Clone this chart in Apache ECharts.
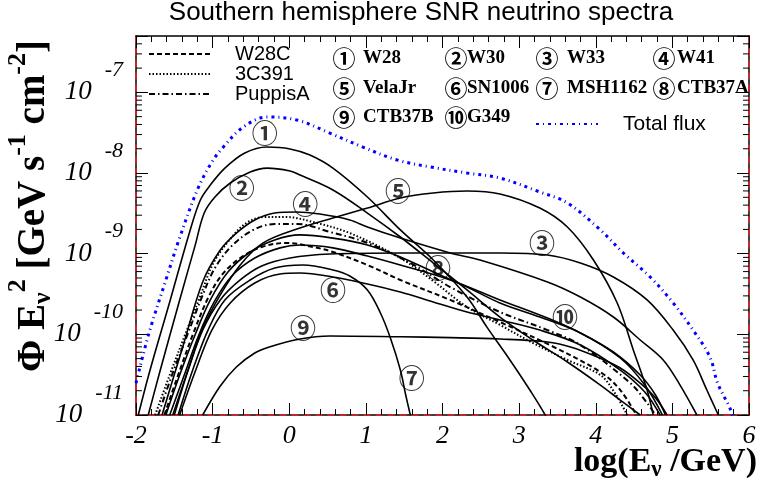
<!DOCTYPE html>
<html>
<head>
<meta charset="utf-8">
<script src="https://cdn.jsdelivr.net/npm/echarts@6/dist/echarts.min.js"></script>
<style>
  html, body { margin: 0; padding: 0; background: #fff; }
  #chart { width: 760px; height: 486px; }
</style>
</head>
<body>
<div id="chart"></div>
<script>
// Neutrino spectra Phi*E^2 (GeV s^-1 cm^-2) versus log10(E / GeV) for southern SNRs.
// Each curve: [log10(E/GeV), flux]
const W28 = [[-1.97,1.00e-11],[-1.82,3.51e-11],[-1.56,2.52e-10],[-1.30,1.86e-9],[-1.16,4.63e-9],[-1.03,7.10e-9],[-0.84,1.15e-8],[-0.58,1.77e-8],[-0.29,2.10e-8],[0.01,1.99e-8],[0.27,1.67e-8],[0.57,1.15e-8],[1.02,5.04e-9],[1.45,1.97e-9],[1.88,8.35e-10],[2.32,2.90e-10],[2.58,1.23e-10],[2.88,4.81e-11],[3.14,2.04e-11],[3.34,1.00e-11],[3.43,6.5e-12]];
const W30 = [[-1.84,1.00e-11],[-1.69,3.41e-11],[-1.43,2.67e-10],[-1.23,1.25e-9],[-1.11,3.19e-9],[-0.97,5.04e-9],[-0.77,7.52e-9],[-0.51,1.03e-8],[-0.29,1.15e-8],[0.01,1.06e-8],[0.14,9.45e-9],[0.57,6.16e-9],[1.02,3.19e-9],[1.45,1.61e-9],[1.88,7.66e-10],[2.32,3.55e-10],[2.75,1.64e-10],[3.18,8.51e-11],[3.63,4.54e-11],[4.06,2.35e-11],[4.32,1.53e-11],[4.58,1.00e-11]];
const W33 = [[-1.52,1.00e-11],[-1.32,3.61e-11],[-1.13,1.13e-10],[-0.90,2.67e-10],[-0.64,4.72e-10],[-0.36,7.03e-10],[0.01,8.83e-10],[0.53,9.91e-10],[1.45,1.02e-9],[2.75,1.02e-9],[3.37,9.63e-10],[3.80,7.66e-10],[4.23,5.14e-10],[4.67,2.67e-10],[5.01,1.13e-10],[5.27,4.81e-11],[5.45,2.04e-11],[5.60,1.00e-11]];
const W41 = [[-1.66,1.00e-11],[-1.39,6.97e-11],[-1.13,4.46e-10],[-0.90,1.11e-9],[-0.69,1.80e-9],[-0.45,2.62e-9],[-0.19,3.19e-9],[0.09,3.29e-9],[0.40,3.10e-9],[0.79,2.62e-9],[1.02,2.14e-9],[1.45,1.56e-9],[2.10,1.02e-9],[2.49,8.35e-10],[3.37,4.46e-10],[3.80,2.90e-10],[4.23,1.64e-10],[4.58,8.51e-11],[4.88,4.81e-11],[5.10,2.35e-11],[5.32,1.00e-11]];
const VelaJr = [[-1.50,1.00e-11],[-1.32,3.61e-11],[-1.14,1.13e-10],[-0.90,3.08e-10],[-0.64,7.24e-10],[-0.34,1.36e-9],[0.14,2.08e-9],[0.57,2.77e-9],[1.02,3.68e-9],[1.45,4.90e-9],[1.88,5.65e-9],[2.32,5.98e-9],[2.75,5.50e-9],[3.27,3.68e-9],[3.63,2.14e-9],[3.97,8.35e-10],[4.28,2.45e-10],[4.49,6.40e-11],[4.67,2.04e-11],[4.75,1.00e-11]];
const SN1006 = [[-1.43,1.00e-11],[-1.22,3.61e-11],[-1.01,1.13e-10],[-0.77,2.45e-10],[-0.45,4.33e-10],[-0.12,5.60e-10],[0.14,5.75e-10],[0.57,5.14e-10],[1.02,4.21e-10],[1.45,3.35e-10],[1.88,2.52e-10],[2.32,1.89e-10],[2.75,1.51e-10],[3.27,1.13e-10],[3.80,7.38e-11],[4.32,3.61e-11],[4.64,1.93e-11],[4.84,1.00e-11]];
const MSH1162 = [[-1.45,1.00e-11],[-1.26,3.61e-11],[-1.06,1.13e-10],[-0.84,2.67e-10],[-0.51,4.72e-10],[-0.19,6.64e-10],[0.18,7.24e-10],[0.57,6.28e-10],[0.79,5.29e-10],[1.02,3.55e-10],[1.19,1.84e-10],[1.32,9.01e-11],[1.45,3.61e-11],[1.52,1.77e-11],[1.58,1.00e-11]];
const CTB37A = [[-1.61,1.00e-11],[-1.43,3.13e-11],[-1.23,9.82e-11],[-1.03,2.67e-10],[-0.80,5.93e-10],[-0.51,1.05e-9],[-0.19,1.48e-9],[0.14,1.71e-9],[0.57,1.56e-9],[1.02,1.28e-9],[1.45,9.10e-10],[1.88,5.93e-10],[2.32,3.86e-10],[2.75,2.45e-10],[3.27,1.64e-10],[3.80,1.04e-10],[4.32,5.09e-11],[4.64,2.35e-11],[4.87,1.00e-11]];
const CTB37B = [[-1.13,1.00e-11],[-0.90,2.29e-11],[-0.69,3.94e-11],[-0.45,5.87e-11],[-0.26,6.97e-11],[0.14,8.75e-11],[0.53,9.54e-11],[1.45,9.32e-11],[2.10,9.10e-11],[2.75,8.75e-11],[3.37,8.04e-11],[3.67,6.97e-11],[4.02,5.24e-11],[4.32,3.83e-11],[4.58,2.49e-11],[4.78,1.63e-11],[4.93,1.00e-11]];
const G349 = [[-1.56,1.00e-11],[-1.37,3.13e-11],[-1.18,9.82e-11],[-0.98,2.52e-10],[-0.75,5.29e-10],[-0.45,8.83e-10],[-0.12,1.18e-9],[0.14,1.28e-9],[0.57,1.18e-9],[1.02,9.36e-10],[1.45,7.24e-10],[2.10,4.72e-10],[2.75,2.67e-10],[3.37,1.59e-10],[3.80,1.04e-10],[4.23,6.04e-11],[4.58,3.13e-11],[4.78,1.77e-11],[4.91,1.00e-11]];
const W28C = [[-1.63,1.00e-11],[-1.45,3.13e-11],[-1.26,9.82e-11],[-1.06,2.82e-10],[-0.88,5.44e-10],[-0.64,8.83e-10],[-0.36,1.21e-9],[-0.03,1.36e-9],[0.31,1.21e-9],[0.57,1.05e-9],[1.02,7.24e-10],[1.45,4.72e-10],[2.10,2.67e-10],[2.75,1.42e-10],[3.40,7.38e-11],[4.06,3.41e-11],[4.32,2.04e-11],[4.53,1.00e-11]];
const C391 = [[-1.75,1.00e-11],[-1.56,3.13e-11],[-1.36,9.82e-11],[-1.16,2.99e-10],[-0.99,7.66e-10],[-0.77,1.52e-9],[-0.56,2.40e-9],[-0.32,2.85e-9],[-0.04,2.85e-9],[0.31,2.47e-9],[0.79,1.80e-9],[1.45,8.83e-10],[1.88,4.58e-10],[2.32,2.18e-10],[2.75,1.31e-10],[3.18,7.81e-11],[3.63,4.81e-11],[4.06,3.13e-11],[4.25,1.87e-11],[4.41,1.00e-11]];
const PuppisA = [[-1.71,1.00e-11],[-1.53,3.13e-11],[-1.33,9.82e-11],[-1.14,2.90e-10],[-0.97,6.64e-10],[-0.75,1.25e-9],[-0.47,1.97e-9],[-0.19,2.33e-9],[0.11,2.33e-9],[0.53,1.86e-9],[1.02,1.36e-9],[1.58,7.66e-10],[2.10,3.86e-10],[2.75,1.89e-10],[3.37,1.13e-10],[3.80,7.38e-11],[4.45,2.49e-11],[4.67,1.41e-11],[4.78,1.00e-11]];
const TotalFlux = [[-2.00,2.49e-11],[-1.83,1.04e-10],[-1.61,4.72e-10],[-1.44,1.48e-9],[-1.20,6.16e-9],[-1.01,1.37e-8],[-0.86,2.10e-8],[-0.60,3.72e-8],[-0.29,4.95e-8],[0.10,4.54e-8],[0.53,3.13e-8],[0.96,2.10e-8],[1.41,1.45e-8],[1.84,1.19e-8],[2.32,1.00e-8],[2.75,8.67e-9],[3.27,5.82e-9],[3.63,4.25e-9],[4.06,1.97e-9],[4.36,1.02e-9],[4.71,5.14e-10],[5.01,2.45e-10],[5.27,1.13e-10],[5.49,5.24e-11],[5.59,2.49e-11],[5.75,1.22e-11],[5.82,8.0e-12]];

// Circled markers placed next to each remnant's curve
const markerText = ['①','②','③','④','⑤','⑥','⑦','⑧','⑨','⑩'];
const markerLogE = [-0.32, -0.62, 3.30, 0.21, 1.42, 0.57, 1.60, 1.94, 0.18, 3.60];
const markerFlux = [3.13e-8, 6.52e-9, 1.36e-9, 4.13e-9, 5.98e-9, 3.55e-10, 2.87e-11, 6.64e-10, 1.20e-10, 1.64e-10];

// Remnant key (marker + name), four per row
const keyMarkers = ['①','②','③','④','⑤','⑥','⑦','⑧','⑨','⑩'];
const keyNames = ['W28','W30','W33','W41','VelaJr','SN1006','MSH1162','CTB37A','CTB37B','G349'];

// Axis ticks
const xTicks = [-2, -1, 0, 1, 2, 3, 4, 5, 6];
const yExponents = [-11, -10, -9, -8, -7];
const minorMultipliers = [2, 3, 4, 5, 6, 7, 8, 9];

const xMin = -2, xMax = 6, yMin = 1e-11, yMax = 5e-7;

const SERIF = "'Liberation Serif','Times New Roman',serif";
const SANS = "'Liberation Sans',Arial,sans-serif";
const CIRC = "'Noto Sans CJK SC','DejaVu Sans',sans-serif";

const chart = echarts.init(document.getElementById('chart'), null, { renderer: 'canvas' });

function curve(name, data, lineStyle) {
  return {
    type: 'line', name, data,
    symbol: 'none', showSymbol: false,
    smooth: 0.35, clip: true, silent: true,
    lineStyle: Object.assign({ color: '#000', width: 1.6 }, lineStyle),
    itemStyle: { color: lineStyle && lineStyle.color ? lineStyle.color : '#000' },
    z: 3
  };
}

const solidCurves = [
  ['W28', W28], ['W30', W30], ['W33', W33], ['W41', W41], ['VelaJr', VelaJr],
  ['SN1006', SN1006], ['MSH1162', MSH1162], ['CTB37A', CTB37A], ['CTB37B', CTB37B], ['G349', G349]
];

const series = solidCurves.map(([n, d]) => curve(n, d, {}));
series.push(curve('W28C', W28C, { width: 2, type: [5, 3] }));
series.push(curve('3C391', C391, { width: 2, type: [1.5, 2] }));
series.push(curve('PuppisA', PuppisA, { width: 2, type: [6, 3, 1.5, 3] }));
series.push(curve('Total flux', TotalFlux, { color: '#0000ff', width: 3, type: [3, 4, 1, 4] }));

// circled markers
series.push({
  type: 'scatter', silent: true, z: 10,
  symbol: 'circle', symbolSize: 1, itemStyle: { color: 'rgba(0,0,0,0)' },
  data: markerLogE.map((e, i) => ({ value: [e, markerFlux[i]], label: { formatter: markerText[i] } })),
  label: { show: true, position: 'inside', fontFamily: CIRC, fontWeight: 'bold', fontSize: 26, color: '#000' }
});

// log minor ticks on left and right frame edges
const minorValues = [];
yExponents.forEach(e => minorMultipliers.forEach(m => {
  const v = m * Math.pow(10, e);
  if (v < yMax) minorValues.push(v);
}));
series.push({
  type: 'custom', silent: true, clip: false, z: 5,
  data: minorValues.map(v => [xMin, v]),
  renderItem: (params, api) => {
    const v = api.value(1);
    const l = api.coord([xMin, v]);
    const r = api.coord([xMax, v]);
    return {
      type: 'group', children: [
        { type: 'line', shape: { x1: l[0], y1: l[1], x2: l[0] + 6, y2: l[1] }, style: { stroke: '#000', lineWidth: 1 } },
        { type: 'line', shape: { x1: r[0], y1: r[1], x2: r[0] - 6, y2: r[1] }, style: { stroke: '#000', lineWidth: 1 } }
      ]
    };
  }
});

const frameLine = { onZero: false, lineStyle: { color: '#000', width: 1.5 } };
const redLine = { onZero: false, lineStyle: { color: '#e8202a', width: 1.5, type: [6, 6] } };
const tick = { inside: true, length: 12, lineStyle: { color: '#000', width: 1 } };

const baseX = {
  type: 'value', min: xMin, max: xMax, interval: 1,
  axisLine: frameLine, splitLine: { show: false }, axisTick: tick,
  minorTick: { show: true, splitNumber: 5, length: 6, lineStyle: { color: '#000', width: 1 } }
};
const baseY = {
  type: 'log', logBase: 10, min: yMin, max: yMax,
  axisLine: frameLine, splitLine: { show: false }, axisTick: tick,
  minorTick: { show: false }
};
const overlay = (pos) => ({
  type: 'value', min: 0, max: 1, position: pos,
  axisLine: redLine, axisTick: { show: false }, axisLabel: { show: false }, splitLine: { show: false }
});

// key texts
const graphics = [];
const colDigitX = [344, 456, 547, 664];
const colNameX = [363, 467, 567, 677];
const rowY = [58, 88, 117];
keyNames.forEach((name, i) => {
  const c = i % 4, r = Math.floor(i / 4);
  graphics.push({ type: 'text', x: colDigitX[c], y: rowY[r], silent: true,
    style: { text: keyMarkers[i], font: 'bold 23px ' + CIRC, fill: '#000', align: 'center', verticalAlign: 'middle', textAlign: 'center', textVerticalAlign: 'middle' } });
  graphics.push({ type: 'text', x: colNameX[c], y: rowY[r], silent: true,
    style: { text: name, font: 'bold 19px ' + SERIF, fill: '#000', align: 'left', verticalAlign: 'middle', textAlign: 'left', textVerticalAlign: 'middle' } });
});

// axis titles
graphics.push({
  type: 'text', x: 34, y: 206, rotation: Math.PI / 2, silent: true,
  style: {
    text: '{m|\u03A6 E}{sub|\u03BD}{sup|2}{m| [GeV s}{sup|-1}{m| cm}{sup|-2}{m|]}',
    align: 'center', verticalAlign: 'middle', textAlign: 'center', textVerticalAlign: 'middle',
    rich: {
      m: { fontFamily: SERIF, fontWeight: 'bold', fontSize: 39, lineHeight: 46, color: '#000' },
      sup: { fontFamily: SERIF, fontWeight: 'bold', fontSize: 26, lineHeight: 46, padding: [0, 0, 32, 0], color: '#000' },
      sub: { fontFamily: SERIF, fontWeight: 'bold', fontSize: 26, lineHeight: 46, padding: [18, 0, 0, 0], color: '#000' }
    }
  }
});
graphics.push({
  type: 'text', x: 757, y: 462, silent: true,
  style: {
    text: '{m|log(E}{sub|\u03BD}{m| /GeV)}',
    align: 'right', verticalAlign: 'middle', textAlign: 'right', textVerticalAlign: 'middle',
    rich: {
      m: { fontFamily: SERIF, fontWeight: 'bold', fontSize: 34, lineHeight: 40, color: '#000' },
      sub: { fontFamily: SERIF, fontWeight: 'bold', fontSize: 23, lineHeight: 40, padding: [16, 0, 0, 0], color: '#000' }
    }
  }
});

const hiddenSymbol = { opacity: 0 };

const option = {
  animation: false,
  backgroundColor: '#fff',
  title: {
    text: 'Southern hemisphere SNR neutrino spectra',
    left: 421, top: 0, padding: 0, textAlign: 'center',
    textStyle: { fontFamily: SANS, fontSize: 26, fontWeight: 'normal', color: '#000' }
  },
  legend: [
    {
      data: ['W28C', '3C391', 'PuppisA'].map(n => ({ name: n, itemStyle: hiddenSymbol })),
      orient: 'vertical', left: 148, top: 44, padding: 0,
      itemWidth: 61, itemHeight: 10, itemGap: 0, selectedMode: false,
      itemStyle: hiddenSymbol,
      textStyle: { fontFamily: SANS, fontSize: 20, color: '#000', lineHeight: 19.5, padding: [0, 0, 0, 20] }
    },
    {
      data: [{ name: 'Total flux', itemStyle: hiddenSymbol }],
      left: 535, top: 113, padding: 0,
      itemWidth: 62, itemHeight: 10, selectedMode: false,
      itemStyle: hiddenSymbol,
      textStyle: { fontFamily: SANS, fontSize: 21, color: '#000', lineHeight: 22, padding: [0, 0, 0, 20] }
    }
  ],
  grid: { left: 136, right: 11, top: 36, bottom: 71 },
  xAxis: [
    Object.assign({}, baseX, {
      position: 'bottom',
      axisLabel: {
        show: true, margin: 8, fontFamily: SERIF, fontStyle: 'italic', fontSize: 26, color: '#000',
        formatter: v => xTicks.includes(v) ? String(v) : ''
      }
    }),
    Object.assign({}, baseX, { position: 'top', axisLabel: { show: false } }),
    overlay('bottom')
  ],
  yAxis: [
    Object.assign({}, baseY, {
      position: 'left',
      axisLabel: {
        show: true, margin: 13,
        formatter: v => {
          const lg = Math.log10(v);
          const e = Math.round(lg);
          if (Math.abs(lg - e) > 1e-6 || !yExponents.includes(e)) return '';
          return '{b|10}{e|' + e + '}';
        },
        rich: {
          b: { fontFamily: SERIF, fontStyle: 'italic', fontSize: 27, lineHeight: 30, color: '#000' },
          e: { fontFamily: SERIF, fontStyle: 'italic', fontSize: 22, lineHeight: 30, padding: [0, 0, 44, 13], color: '#000' }
        }
      }
    }),
    Object.assign({}, baseY, { position: 'right', axisLabel: { show: false } }),
    overlay('left'),
    overlay('right')
  ],
  graphic: graphics,
  series
};

chart.setOption(option);
</script>
</body>
</html>
